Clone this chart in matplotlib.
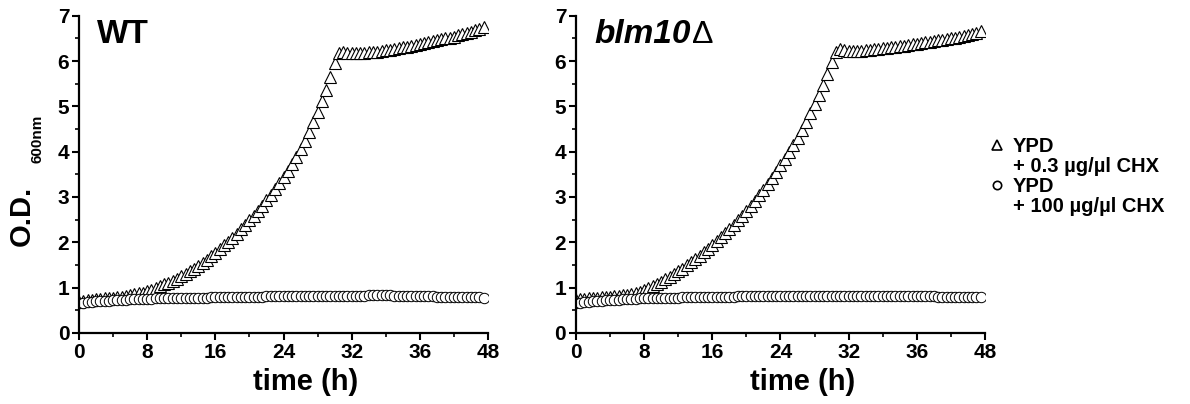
import numpy as np
import matplotlib
matplotlib.use("Agg")
import matplotlib.pyplot as plt
from matplotlib.lines import Line2D

plt.rcParams['font.family'] = ['Liberation Sans', 'DejaVu Sans']
plt.rcParams['font.weight'] = 'bold'

# === Data (O.D. 600nm, read every 0.5 h) ===
time_h = np.arange(0, 48, 0.5)

wt_low_chx = [
    0.68, 0.70, 0.72, 0.73, 0.74, 0.75, 0.76, 0.77,
    0.78, 0.79, 0.80, 0.81, 0.83, 0.85, 0.87, 0.89,
    0.92, 0.95, 0.99, 1.03, 1.07, 1.11, 1.15, 1.20,
    1.25, 1.30, 1.36, 1.42, 1.48, 1.55, 1.62, 1.69,
    1.77, 1.85, 1.93, 2.01, 2.10, 2.19, 2.29, 2.39,
    2.49, 2.59, 2.70, 2.81, 2.93, 3.05, 3.17, 3.30,
    3.43, 3.57, 3.72, 3.88, 4.05, 4.24, 4.44, 4.65,
    4.87, 5.11, 5.37, 5.65, 5.95, 6.17, 6.20, 6.18,
    6.17, 6.17, 6.17, 6.18, 6.19, 6.20, 6.21, 6.22,
    6.24, 6.25, 6.27, 6.28, 6.30, 6.32, 6.34, 6.36,
    6.38, 6.40, 6.42, 6.44, 6.46, 6.48, 6.50, 6.52,
    6.54, 6.57, 6.59, 6.62, 6.65, 6.68, 6.71, 6.75,
]
wt_high_chx = [
    0.65, 0.67, 0.68, 0.69, 0.70, 0.70, 0.71, 0.71,
    0.72, 0.72, 0.73, 0.73, 0.74, 0.74, 0.74, 0.75,
    0.75, 0.75, 0.76, 0.76, 0.76, 0.76, 0.77, 0.77,
    0.77, 0.77, 0.78, 0.78, 0.78, 0.78, 0.78, 0.79,
    0.79, 0.79, 0.79, 0.79, 0.79, 0.80, 0.80, 0.80,
    0.80, 0.80, 0.80, 0.80, 0.81, 0.81, 0.81, 0.81,
    0.81, 0.81, 0.81, 0.81, 0.81, 0.82, 0.82, 0.82,
    0.82, 0.82, 0.82, 0.82, 0.82, 0.82, 0.82, 0.82,
    0.82, 0.82, 0.82, 0.82, 0.83, 0.83, 0.83, 0.83,
    0.83, 0.83, 0.82, 0.82, 0.82, 0.82, 0.82, 0.81,
    0.81, 0.81, 0.81, 0.81, 0.80, 0.80, 0.80, 0.80,
    0.80, 0.80, 0.79, 0.79, 0.79, 0.79, 0.79, 0.78,
]
blm_low_chx = [
    0.72, 0.74, 0.75, 0.76, 0.77, 0.78, 0.79, 0.80,
    0.80, 0.81, 0.82, 0.83, 0.84, 0.86, 0.88, 0.91,
    0.95, 0.99, 1.03, 1.08, 1.13, 1.18, 1.24, 1.30,
    1.36, 1.42, 1.49, 1.56, 1.63, 1.70, 1.78, 1.86,
    1.94, 2.02, 2.11, 2.20, 2.29, 2.39, 2.49, 2.59,
    2.70, 2.81, 2.92, 3.04, 3.16, 3.29, 3.42, 3.56,
    3.70, 3.84, 3.99, 4.15, 4.31, 4.48, 4.66, 4.85,
    5.05, 5.26, 5.48, 5.72, 5.98, 6.20, 6.26, 6.24,
    6.23, 6.23, 6.23, 6.23, 6.24, 6.25, 6.26, 6.27,
    6.28, 6.29, 6.30, 6.31, 6.33, 6.34, 6.35, 6.37,
    6.38, 6.40, 6.41, 6.43, 6.44, 6.46, 6.47, 6.49,
    6.51, 6.52, 6.54, 6.56, 6.58, 6.60, 6.63, 6.66,
]
blm_high_chx = [
    0.65, 0.67, 0.68, 0.69, 0.70, 0.71, 0.71, 0.72,
    0.72, 0.73, 0.73, 0.74, 0.74, 0.75, 0.75, 0.76,
    0.76, 0.76, 0.77, 0.77, 0.77, 0.78, 0.78, 0.78,
    0.78, 0.79, 0.79, 0.79, 0.79, 0.79, 0.80, 0.80,
    0.80, 0.80, 0.80, 0.80, 0.80, 0.80, 0.81, 0.81,
    0.81, 0.81, 0.81, 0.81, 0.81, 0.81, 0.81, 0.81,
    0.81, 0.81, 0.81, 0.81, 0.82, 0.82, 0.82, 0.82,
    0.82, 0.82, 0.82, 0.82, 0.82, 0.82, 0.82, 0.82,
    0.82, 0.82, 0.82, 0.82, 0.82, 0.82, 0.82, 0.82,
    0.82, 0.82, 0.82, 0.82, 0.82, 0.82, 0.81, 0.81,
    0.81, 0.81, 0.81, 0.81, 0.81, 0.80, 0.80, 0.80,
    0.80, 0.80, 0.80, 0.80, 0.80, 0.80, 0.80, 0.80,
]

x_ticks = [0, 8, 16, 24, 32, 40, 48]
x_tick_labels = ['0', '8', '16', '24', '32', '36', '48']
legend_labels = ['YPD', '+ 0.3 µg/µl CHX', 'YPD', '+ 100 µg/µl CHX']

# === Figure ===
fig = plt.figure(figsize=(11.9, 4.04), dpi=100)
ax1 = fig.add_axes([0.0664, 0.176, 0.3437, 0.785])
ax2 = fig.add_axes([0.4840, 0.176, 0.3437, 0.785])


def style_panel(ax, low, high):
    ax.plot(time_h, low, linestyle='none', marker='^', ms=8, mfc='white',
            mec='black', mew=0.8)
    ax.plot(time_h, high, linestyle='none', marker='o', ms=7.5, mfc='white',
            mec='black', mew=0.7)
    ax.set_xlim(0, 48)
    ax.set_ylim(0, 7)
    ax.set_xticks(x_ticks)
    ax.set_xticklabels(x_tick_labels)
    ax.set_xticks(np.arange(0, 49, 4), minor=True)
    ax.set_yticks(range(8))
    ax.set_yticks(np.arange(0, 7.01, 0.5), minor=True)
    for side in ['top', 'right']:
        ax.spines[side].set_visible(False)
    for side in ['left', 'bottom']:
        ax.spines[side].set_linewidth(1.6)
    ax.tick_params(which='major', direction='out', length=5, width=1.5,
                   labelsize=15, pad=2)
    ax.tick_params(which='minor', direction='out', length=3, width=1.2)
    for lab in ax.get_xticklabels() + ax.get_yticklabels():
        lab.set_fontweight('bold')
    ax.set_xlabel('time (h)', fontsize=21, fontweight='bold')
    ax.xaxis.set_label_coords(0.553, -0.11)


style_panel(ax1, wt_low_chx, wt_high_chx)
style_panel(ax2, blm_low_chx, blm_high_chx)

ax1.text(0.045, 0.99, 'WT', transform=ax1.transAxes, fontsize=24,
         fontweight='bold', va='top', ha='left')
strain = ax2.text(0.045, 0.99, 'blm10', transform=ax2.transAxes, fontsize=24,
                  fontweight='bold', fontstyle='italic', va='top', ha='left')
ax2.annotate('Δ', xy=(1, 0), xycoords=strain, xytext=(1, 0),
             textcoords='offset points', fontsize=23, fontweight='normal',
             va='bottom', ha='left')

# y label with subscript
fig.text(0.0185, 1 - 216 / 404, 'O.D.', rotation=90, fontsize=21,
         fontweight='bold', ha='center', va='center')
fig.text(0.0315, 1 - 139 / 404, '600nm', rotation=90, fontsize=11,
         fontweight='bold', ha='center', va='center')

# legend
blank = Line2D([], [], linestyle='none')
handles = [
    Line2D([], [], linestyle='none', marker='^', ms=6.5, mfc='white',
           mec='black', mew=1.2),
    blank,
    Line2D([], [], linestyle='none', marker='o', ms=6, mfc='white',
           mec='black', mew=1.2),
    blank,
]
fig.legend(handles, legend_labels, loc='upper left',
           bbox_to_anchor=(989 / 1190, 1 - 137 / 404),
           bbox_transform=fig.transFigure, frameon=False,
           prop={'weight': 'bold', 'size': 14.5}, handlelength=0.8,
           handletextpad=0.4, labelspacing=0.05, borderpad=0,
           borderaxespad=0)

fig.savefig('out.png', dpi=100)
